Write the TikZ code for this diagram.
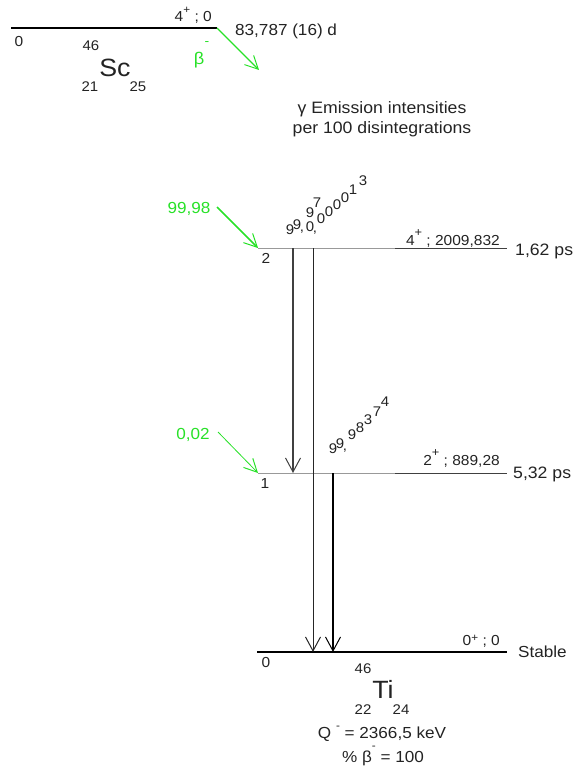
\documentclass[tikz,border=0pt]{standalone}
\usepackage{fontspec}
\setmainfont{Liberation Sans}[FakeStretch=1.07]
\usetikzlibrary{arrows.meta}
\definecolor{grn}{RGB}{40,225,40}
\definecolor{tcol}{RGB}{35,35,35}
\newcommand\upchar[3]{\raisebox{#1}{\fontsize{#2}{#2}\selectfont #3}}
\newcommand\cma{,}
\begin{document}
\begin{tikzpicture}[x=1pt,y=-1pt,
  fs/.style={font=\fontsize{#1}{#1}\selectfont},
  t/.style={inner sep=0pt,text=tcol},
  gt/.style={inner sep=0pt,text=grn},
  lvl/.style={draw=black!40,line width=0.9pt},
  lvldark/.style={draw=black!75,line width=0.9pt},
  thicklvl/.style={draw=black,line width=2.4pt},
  opentip/.tip={Straight Barb[length=14pt,width=15pt,line width=1pt]},
  greentip/.tip={Straight Barb[length=13pt,width=13pt,line width=1pt]},
]
\useasboundingbox (0,0) rectangle (576,768);

% ---------- parent Sc ----------
\coordinate (sc0) at (11,28);
\coordinate (sc1) at (217,28);
\draw[thicklvl] (sc0) -- (sc1);
\coordinate (betaend) at (259,70);
\draw[draw=grn,line width=1.4pt,-greentip] (sc1) -- (betaend);

\node[t,fs=14.5,anchor=base east] (scspin) at (212,22) {4\upchar{8pt}{11}{+} ; 0};
\node[t,fs=16,anchor=base west] (schalf) at (235,36) {83,787 (16) d};
\node[t,fs=14.5,anchor=base] (sczero) at (19,47) {0};
\node[t,fs=14,anchor=base] (scA) at (91,51) {46};
\node[t,fs=25,anchor=base] (scname) at (115,76) {Sc};
\node[t,fs=14,anchor=base] (scZ) at (90,92) {21};
\node[t,fs=14,anchor=base] (scN) at (138,92) {25};
\node[gt,fs=17,anchor=base] (betalbl) at (199,65) {β};
\node[gt,fs=13] (betaminus) at (207,44) {-};

% ---------- header ----------
\node[t,fs=16.5,anchor=base] (head1) at (382,113) {γ Emission intensities};
\node[t,fs=16.5,anchor=base] (head2) at (382,133) {per 100 disintegrations};

% ---------- level 2 ----------
\coordinate (l2a) at (258,248);
\coordinate (l2b) at (395,248);
\coordinate (l2c) at (507,248);
\draw[lvl] (l2a) -- (l2c);
\draw[lvldark] (l2b) -- (l2c);
\node[t,fs=14.5,anchor=base east] (l2spin) at (500,245) {4\upchar{9pt}{12}{+} ; 2009,832};
\node[t,fs=16.5,anchor=base west] (l2half) at (515,255) {1,62 ps};
\node[t,fs=14.5,anchor=base] (l2num) at (266,263) {2};
\coordinate (g2s) at (217,207);
\draw[draw=grn,line width=1.6pt,-greentip] (g2s) -- (l2a);
\node[gt,fs=16,anchor=base] (g2lbl) at (189,213) {99,98};

% ---------- level 1 ----------
\coordinate (l1a) at (258,473);
\coordinate (l1b) at (395,473);
\coordinate (l1c) at (507,473);
\draw[lvl] (l1a) -- (l1c);
\draw[lvldark] (l1b) -- (l1c);
\node[t,fs=14.5,anchor=base east] (l1spin) at (500,465) {2\upchar{9pt}{12}{+} ; 889,28};
\node[t,fs=16.5,anchor=base west] (l1half) at (513,478) {5,32 ps};
\node[t,fs=14.5,anchor=base] (l1num) at (265,488) {1};
\coordinate (g1s) at (218,432);
\draw[draw=grn,line width=0.8pt,-greentip] (g1s) -- (l1a);
\node[gt,fs=16,anchor=base] (g1lbl) at (193,439) {0,02};

% ---------- ground ----------
\coordinate (l0a) at (257,652);
\coordinate (l0c) at (507,652);
\draw[thicklvl] (l0a) -- (l0c);
\node[t,fs=14.5,anchor=base east] (l0spin) at (500,645) {0\upchar{4pt}{11}{+} ; 0};
\node[t,fs=16,anchor=west] (stable) at (518,652) {Stable};
\node[t,fs=14.5,anchor=base] (l0num) at (266,667) {0};
\node[t,fs=14,anchor=base] (tiA) at (363,673) {46};
\node[t,fs=25,anchor=base] (tiname) at (383,698) {Ti};
\node[t,fs=14,anchor=base] (tiZ) at (363,714) {22};
\node[t,fs=14,anchor=base] (tiN) at (401,714) {24};
\node[t,fs=16,anchor=base] (qval) at (382,738) {Q \upchar{9pt}{11}{-} = 2366,5 keV};
\node[t,fs=16,anchor=base] (pbeta) at (383,762) {\% β\upchar{13pt}{11}{-} = 100};

% ---------- gamma transitions ----------
\coordinate (t21a) at (293,248);
\coordinate (t21b) at (293,473);
\draw[draw=black!75,line width=2pt,-opentip] (t21a) -- (t21b);
\coordinate (t20a) at (313,248);
\coordinate (t20b) at (313,652);
\draw[draw=black!85,line width=0.9pt,-opentip] (t20a) -- (t20b);
\coordinate (t10a) at (333,473);
\coordinate (t10b) at (333,652);
\draw[draw=black,line width=2.4pt,-opentip] (t10a) -- (t10b);

% ---------- intensity labels (stepped characters) ----------
\foreach \c/\x/\y [count=\i] in {9/290/230, 9/297/225, \cma/302/232, 9/310/213, 7/317/203}
  \node[t,fs=14] (la\i) at (\x,\y) {\c};
\foreach \c/\x/\y [count=\i] in {0/310/227, \cma/315/233, 0/321/219, 0/329/212, 0/337/205, 0/345/198, 1/353/190, 3/363/181}
  \node[t,fs=14] (lb\i) at (\x,\y) {\c};
\foreach \c/\x/\y [count=\i] in {9/333/449, 9/340/444, \cma/345/451, 9/352/435, 8/360/428, 3/368/420, 7/377/412, 4/385/402}
  \node[t,fs=14] (lc\i) at (\x,\y) {\c};
\end{tikzpicture}
\end{document}
